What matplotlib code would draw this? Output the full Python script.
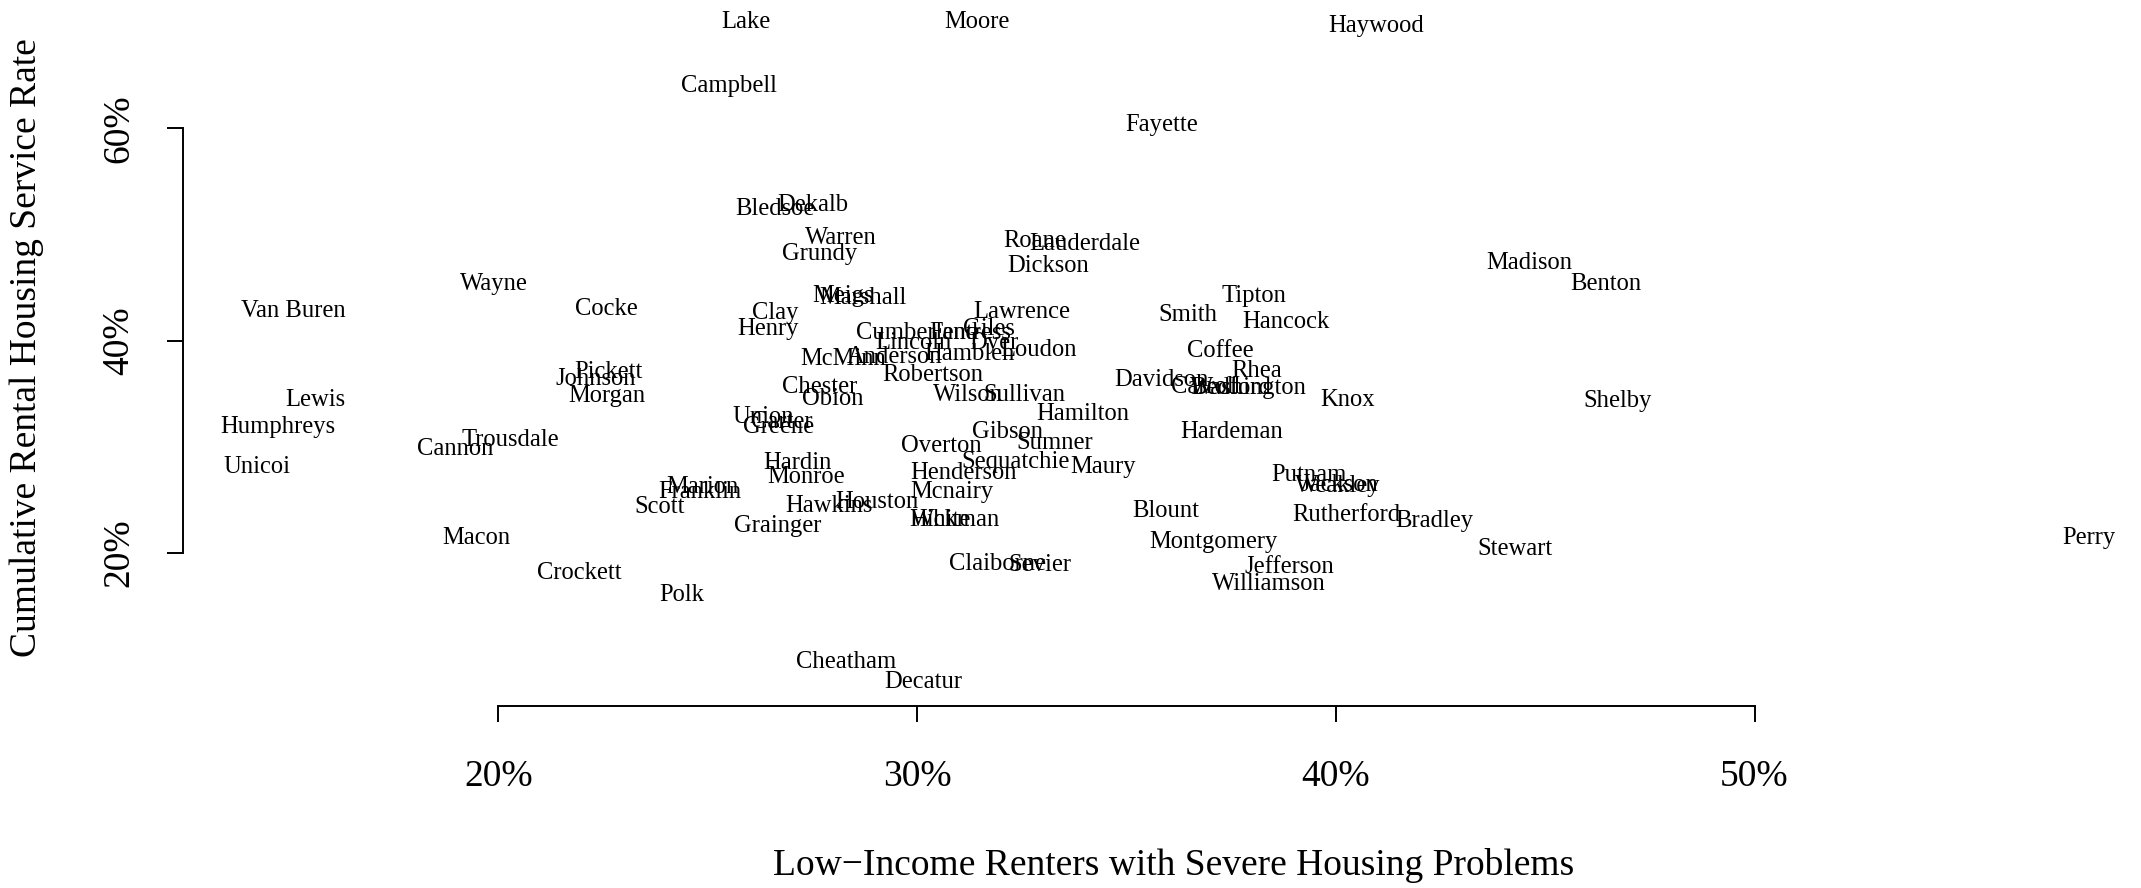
import matplotlib
matplotlib.use("Agg")
import matplotlib.pyplot as plt
from matplotlib.ticker import FuncFormatter

plt.rcParams['font.family'] = ['Liberation Serif', 'DejaVu Serif']

# Tennessee counties: share of low-income renters with severe housing
# problems (x) against cumulative rental housing service rate (y), in percent
counties = [
    "Lake", "Moore", "Haywood", "Campbell", "Fayette", "Dekalb", "Bledsoe",
    "Warren", "Grundy", "Roane", "Lauderdale", "Dickson", "Madison", "Benton",
    "Wayne", "Tipton", "Meigs", "Marshall", "Van Buren", "Cocke", "Clay",
    "Lawrence", "Smith", "Hancock", "Henry", "Cumberland", "Fentress", "Giles",
    "Lincoln", "Dyer", "Loudon", "Anderson", "Hamblen", "McMinn", "Robertson",
    "Coffee", "Rhea", "Pickett", "Johnson", "Morgan", "Chester", "Davidson",
    "Carroll", "Bedford", "Washington", "Obion", "Wilson", "Sullivan", "Knox",
    "Shelby", "Lewis", "Humphreys", "Union", "Carter", "Greene", "Hamilton",
    "Trousdale", "Gibson", "Hardeman", "Sumner", "Cannon", "Overton", "Unicoi",
    "Hardin", "Sequatchie", "Maury", "Henderson", "Monroe", "Putnam",
    "Jackson", "Weakley", "Marion", "Franklin", "Mcnairy", "Houston",
    "Hawkins", "Scott", "Blount", "White", "Hickman", "Rutherford", "Bradley",
    "Grainger", "Macon", "Montgomery", "Stewart", "Perry", "Claiborne",
    "Sevier", "Jefferson", "Crockett", "Williamson", "Polk", "Cheatham",
    "Decatur",
]

severe_problems = [
    25.90, 31.44, 40.97, 25.51, 35.85, 27.52, 26.61,
    28.19, 27.66, 32.82, 34.01, 33.13, 44.62, 46.44,
    19.89, 38.05, 28.24, 28.71, 15.11, 22.59, 26.61,
    32.50, 36.46, 38.81, 26.43, 29.99, 31.26, 31.72,
    29.90, 31.84, 32.91, 29.47, 31.24, 28.23, 30.37,
    37.23, 38.12, 22.62, 22.32, 22.58, 27.66, 35.84,
    36.89, 37.50, 37.92, 27.98, 31.22, 32.56, 40.28,
    46.74, 15.62, 14.73, 26.32, 26.77, 26.70, 33.96,
    20.28, 32.17, 37.51, 33.29, 18.96, 30.57, 14.23,
    27.14, 32.36, 34.44, 31.12, 27.36, 39.36,
    40.08, 40.04, 24.87, 24.82, 30.83, 29.05,
    27.90, 23.86, 35.94, 30.57, 30.90, 40.24, 42.36,
    26.67, 19.48, 37.07, 44.29, 57.99, 31.92,
    32.94, 38.88, 21.92, 38.41, 24.37, 28.31,
    30.14,
]

service_rate = [
    70.29, 70.29, 69.90, 64.24, 60.51, 53.00, 52.62,
    49.95, 48.38, 49.64, 49.33, 47.29, 47.52, 45.59,
    45.53, 44.40, 44.46, 44.30, 43.00, 43.24, 42.82,
    42.89, 42.64, 41.95, 41.32, 40.94, 41.00, 41.35,
    40.00, 40.05, 39.38, 38.65, 38.96, 38.49, 37.00,
    39.28, 37.40, 37.28, 36.60, 35.00, 35.85, 36.55,
    35.89, 35.73, 35.73, 34.72, 35.10, 35.10, 34.66,
    34.53, 34.62, 32.12, 33.00, 32.53, 32.06, 33.33,
    30.85, 31.65, 31.59, 30.64, 30.04, 30.27, 28.36,
    28.70, 28.76, 28.29, 27.75, 27.35, 27.56,
    26.60, 26.52, 26.41, 26.00, 26.00, 25.06,
    24.68, 24.52, 24.21, 23.36, 23.36, 23.80, 23.27,
    22.79, 21.63, 21.29, 20.64, 21.67, 19.18,
    19.09, 18.96, 18.35, 17.30, 16.27, 9.97,
    8.04,
]

x_ticks = [20, 30, 40, 50]
y_ticks = [20, 40, 60]

fig = plt.figure(figsize=(21.41, 8.88), dpi=100)
ax = fig.add_axes([0, 0, 1, 1])
ax.set_xlim(8.096, 59.23)
ax.set_ylim(-11.56, 72.09)

# county names stand in for the points
for name, xv, yv in zip(counties, severe_problems, service_rate):
    ax.text(xv, yv, name, ha="center", va="center_baseline", fontsize=17.7)

# detached axes, only spanning the tick range
for side in ["top", "right"]:
    ax.spines[side].set_visible(False)
ax.spines["left"].set_position(("data", 12.47))
ax.spines["left"].set_bounds(y_ticks[0], y_ticks[-1])
ax.spines["bottom"].set_position(("data", 5.59))
ax.spines["bottom"].set_bounds(x_ticks[0], x_ticks[-1])
for side in ["left", "bottom"]:
    ax.spines[side].set_linewidth(1.4)

pct = FuncFormatter(lambda v, pos: "%d%%" % v)
ax.set_xticks(x_ticks)
ax.set_yticks(y_ticks)
ax.xaxis.set_major_formatter(pct)
ax.yaxis.set_major_formatter(pct)
ax.tick_params(direction="out", length=11.5, width=1.4, labelsize=27)
ax.tick_params(axis="x", pad=27)
ax.tick_params(axis="y", pad=22)
for lbl in ax.get_yticklabels():
    lbl.set_rotation(90)
    lbl.set_va("center")

fig.text(0.5483, 0.0248, "Low\u2212Income Renters with Severe Housing Problems",
         ha="center", va="center", fontsize=27)
fig.text(0.0126, 0.608, "Cumulative Rental Housing Service Rate",
         ha="center", va="center", rotation=90, fontsize=27)

fig.savefig("out.png", dpi=100)
